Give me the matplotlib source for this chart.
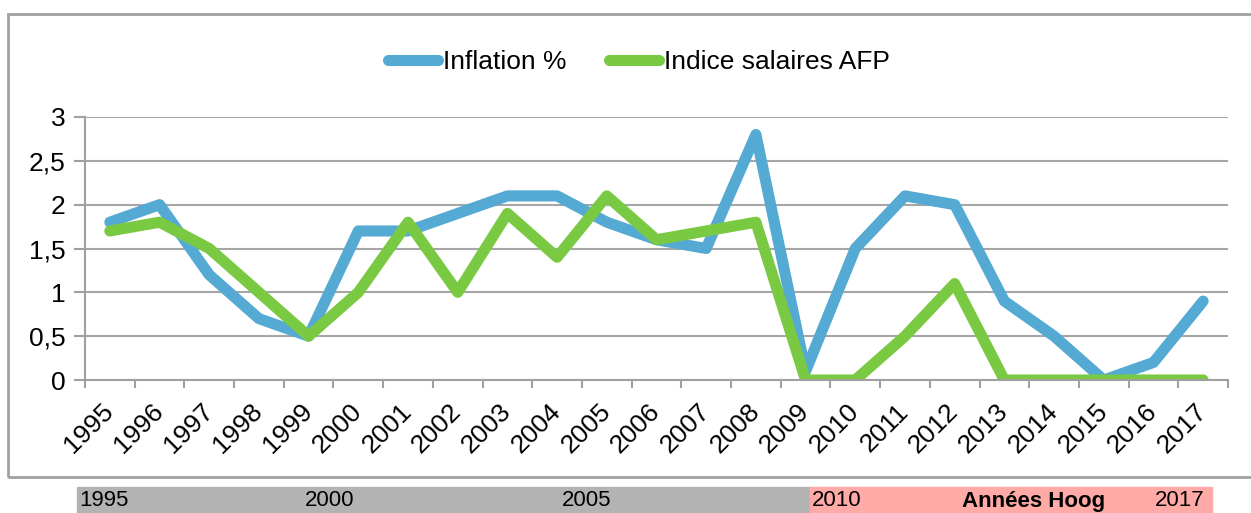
import matplotlib.pyplot as plt
from matplotlib.patches import Rectangle
from matplotlib import font_manager
import numpy as np

plt.rcParams['font.family'] = ['Liberation Sans', 'DejaVu Sans']

years = ['1995', '1996', '1997', '1998', '1999', '2000', '2001', '2002', '2003',
         '2004', '2005', '2006', '2007', '2008', '2009', '2010', '2011', '2012',
         '2013', '2014', '2015', '2016', '2017']
inflation = [1.8, 2.0, 1.2, 0.7, 0.5, 1.7, 1.7, 1.9, 2.1, 2.1, 1.8, 1.6, 1.5, 2.8,
             0.1, 1.5, 2.1, 2.0, 0.9, 0.5, 0.0, 0.2, 0.9]
salaires = [1.7, 1.8, 1.5, 1.0, 0.5, 1.0, 1.8, 1.0, 1.9, 1.4, 2.1, 1.6, 1.7, 1.8,
            0.0, 0.0, 0.5, 1.1, 0.0, 0.0, 0.0, 0.0, 0.0]
yticks = [0, 0.5, 1, 1.5, 2, 2.5, 3]
ylabels = ['0', '0,5', '1', '1,5', '2', '2,5', '3']
band_labels = [(79, '1995'), (305, '2000'), (562, '2005'), (812, '2010'), (1155, '2017')]

installed = {f.name for f in font_manager.fontManager.ttflist}
band_font = 'Liberation Sans Narrow' if 'Liberation Sans Narrow' in installed else 'Liberation Sans'

W, H = 1251, 513
fig = plt.figure(figsize=(W / 100, H / 100), dpi=100)

# outer frame of the chart
fig.patches.append(Rectangle((8 / W, 1 - 477 / H), (1300 - 8) / W, (477 - 14) / H,
                             transform=fig.transFigure, fill=False,
                             edgecolor='#a0a0a0', linewidth=2))

ax = fig.add_axes([85 / W, 1 - 380 / H, (1228 - 85) / W, (380 - 117) / H])
x = np.arange(len(years))
ax.plot(x, inflation, color='#55aad4', lw=8, solid_capstyle='round',
        solid_joinstyle='round', label='Inflation %')
ax.plot(x, salaires, color='#7ac943', lw=8, solid_capstyle='round',
        solid_joinstyle='round', label='Indice salaires AFP')

ax.set_xlim(-0.5, len(years) - 0.5)
ax.set_ylim(0, 3)
ax.set_yticks(yticks)
ax.set_yticklabels(ylabels, fontsize=19)
ax.yaxis.grid(True, color='#a6a6a6', lw=1.5)
ax.set_axisbelow(True)
ax.set_xticks(x)
ax.set_xticklabels(years, fontsize=19, rotation=45, ha='right', va='center',
                   rotation_mode='anchor')
ax.set_xticks(np.arange(-0.5, len(years)), minor=True)
ax.tick_params(axis='x', which='major', length=0, pad=20)
ax.tick_params(axis='x', which='minor', length=6, color='#a0a0a0', width=1.5)
ax.tick_params(axis='y', length=8, color='#a0a0a0', width=1.5, pad=6)
for s in ['top', 'right']:
    ax.spines[s].set_visible(False)
for s in ['left', 'bottom']:
    ax.spines[s].set_color('#a0a0a0')
    ax.spines[s].set_linewidth(1.5)

fig.legend(loc='center', bbox_to_anchor=(639 / W, 1 - 62 / H), ncol=2,
           frameon=False, fontsize=19, handlelength=1.9, handletextpad=0.2,
           columnspacing=1.6)

# bottom band
by, bh = 1 - 513 / H, 26 / H
fig.patches.append(Rectangle((77 / W, by), (810 - 77) / W, bh,
                             transform=fig.transFigure, color='#b3b3b3'))
fig.patches.append(Rectangle((810 / W, by), (1212 - 810) / W, bh,
                             transform=fig.transFigure, color='#ffaaa6'))
ty = 1 - 501 / H
for px, t in band_labels:
    fig.text(px / W, ty, t, fontsize=16, va='center', ha='left', family=band_font)
fig.text(962 / W, ty, 'Années Hoog', fontsize=16, va='center', ha='left',
         fontweight='bold', family=band_font)

fig.savefig('out.png', dpi=100)
